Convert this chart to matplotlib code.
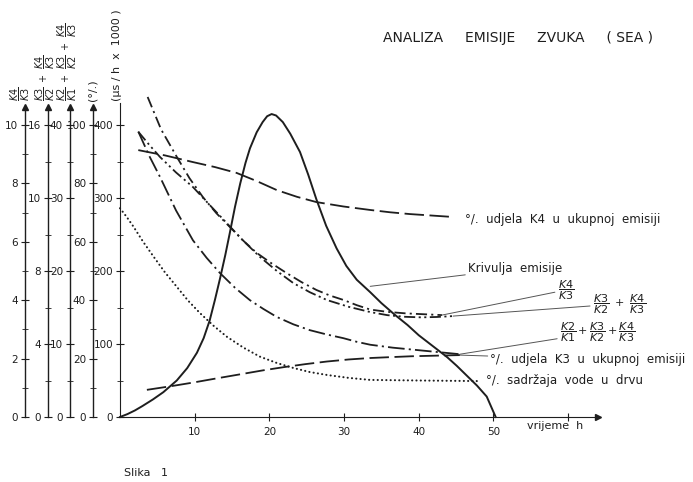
import matplotlib
matplotlib.use("Agg")
import matplotlib.pyplot as plt

# ===== data (x = vrijeme h) =====

# Krivulja emisije, main scale (us/h x 1000)
emis_x = [0, 1, 2, 3, 4.4, 5.8, 7.6, 9.0, 10.3, 11.2, 12.0, 12.7, 13.4, 14.1, 14.7,
          15.4, 16.1, 16.8, 17.4, 18.3, 19.1, 19.7, 20.3, 20.9, 21.8, 22.8, 24.1,
          25.2, 26.3, 27.6, 29.0, 30.3, 31.7, 33.5, 35.0, 36.8, 38.5, 40.0, 41.9,
          43.8, 45.1, 46.4, 47.8, 49.1, 50.3]
emis_y = [0, 4, 9, 15, 24, 34, 50, 67, 88, 108, 132, 160, 190, 222, 252,
          288, 320, 348, 368, 390, 404, 412, 415, 413, 404, 388, 363,
          332, 298, 262, 231, 207, 188, 171, 156, 140, 126, 112, 97,
          82, 70, 57, 43, 28, 0]

# K4/K3 (scale 0-10)
k43_x = [3.7, 5.5, 7.6, 9.3, 11.1, 12.9, 14.7, 16.5, 18.3, 20.3, 22.3, 24.3, 26.3,
         28.1, 29.9, 31.7, 33.5, 35.8, 38.2, 40.6, 43.1]
k43_y = [10.96, 9.85, 8.91, 8.18, 7.53, 6.98, 6.51, 6.04, 5.62, 5.26, 4.93, 4.62,
         4.35, 4.16, 4.01, 3.83, 3.68, 3.60, 3.55, 3.52, 3.49]

# K3/K2 + K4/K3 (scale 0-16)
k32_x = [2.45, 3.9, 5.35, 7.5, 9.77, 12.0, 14.28, 16.5, 18.74, 21.0, 23.2, 25.4,
         27.7, 30.6, 33.5, 35.8, 38.2, 40.3, 42.4, 44.6]
k32_y = [15.63, 14.92, 14.25, 13.40, 12.60, 11.62, 10.63, 9.66, 8.77, 8.00, 7.34,
         6.84, 6.41, 6.04, 5.75, 5.58, 5.49, 5.46, 5.48, 5.53]

# K2/K1 + K3/K2 + K4/K3 (scale 0-40)
k21_x = [2.45, 3.9, 5.35, 7.5, 9.77, 11.6, 13.4, 15.4, 17.4, 19.2, 21.0, 23.2,
         25.4, 27.7, 29.9, 31.7, 33.5, 36.5, 39.5, 42.5, 45.5]
k21_y = [39.1, 35.8, 32.9, 28.3, 24.2, 21.8, 19.7, 17.7, 16.0, 14.8, 13.7, 12.7,
         11.9, 11.3, 10.8, 10.3, 9.9, 9.5, 9.2, 8.9, 8.6]

# % udjela K4 u ukupnoj emisiji
pk4_x = [2.45, 6.0, 9.77, 12.7, 15.6, 18.3, 21.0, 23.7, 26.3, 29.9, 33.5, 36.2, 38.8, 41.7, 44.6]
pk4_y = [91.4, 89.6, 87.3, 85.6, 83.6, 80.8, 77.7, 75.4, 73.6, 72.1, 70.9, 70.1, 69.5, 69.0, 68.5]

# % udjela K3 u ukupnoj emisiji
pk3_x = [3.6, 6.7, 9.8, 13.1, 16.5, 19.2, 22.0, 24.8, 27.7, 30.6, 33.5, 36.2, 39.0, 42.2, 45.5]
pk3_y = [9.3, 10.5, 11.8, 13.3, 14.8, 16.0, 17.1, 18.1, 19.0, 19.7, 20.2, 20.5, 20.8, 21.0, 21.2]

# % sadrzaja vode u drvu
voda_x = [0, 0.9, 1.8, 3.1, 4.5, 6.0, 7.6, 9.1, 10.7, 12.5, 14.3, 16.5, 18.7, 21.0,
          23.2, 25.4, 27.7, 30.6, 33.5, 36.8, 40.0, 44.1, 48.2]
voda_y = [71.5, 68.5, 65.2, 60.0, 54.9, 49.6, 44.6, 39.9, 35.6, 31.3, 27.5, 23.8,
          20.7, 18.5, 16.8, 15.4, 14.4, 13.4, 12.7, 12.6, 12.5, 12.4, 12.3]

# left scales: (label, top value, major ticks, tick labels, minor ticks)
SCALES = [
    (r"$\dfrac{K4}{K3}$", 10, [0, 2, 4, 6, 8, 10], ["0", "2", "4", "6", "8", "10"], [1, 3, 5, 7, 9]),
    (r"$\dfrac{K3}{K2}\ +\ \dfrac{K4}{K3}$", 16, [0, 4, 8, 12, 16], ["0", "4", "8", "10", "16"], [2, 6, 10, 14]),
    (r"$\dfrac{K2}{K1}\ +\ \dfrac{K3}{K2}\ +\ \dfrac{K4}{K3}$", 40, [0, 10, 20, 30, 40], ["0", "10", "20", "30", "40"], [5, 15, 25, 35]),
    ("(°/.)", 100, [0, 20, 40, 60, 80, 100], ["0", "20", "40", "60", "80", "100"], [10, 30, 50, 70, 90]),
]
MAIN_TOP = 400
X_TICKS = [10, 20, 30, 40, 50, 60]
X_LABELS = ["10", "20", "30", "40", "50", ""]

# ===== layout (pixels) =====
W, H = 693, 482
Y0 = 417          # pixel row of zero
SPAN = 292        # pixels from zero to the labelled top value
MAIN_H = 314
LEFT_H = 310
LEFT_X = [25, 48, 70, 93]
LABEL_X = [20, 45, 67, 92]
LABEL_FS = [7, 7, 7, 8]
INK = "#1e1e1e"

plt.rcParams["font.family"] = ["DejaVu Sans"]
plt.rcParams["lines.scale_dashes"] = False
plt.rcParams["mathtext.fontset"] = "dejavusans"

fig = plt.figure(figsize=(W / 100, H / 100), dpi=100)
bottom = (H - Y0) / H


def style_axis(ax):
    for s in ["top", "right"]:
        ax.spines[s].set_visible(False)
    ax.tick_params(which="both", direction="inout", colors=INK, labelsize=7.5, pad=2)
    ax.tick_params(which="major", length=6, width=0.8)
    ax.tick_params(which="minor", length=4, width=0.6)


# left scales
for (label, top, major, labels, minor), xp, lx, fs in zip(SCALES, LEFT_X, LABEL_X, LABEL_FS):
    la = fig.add_axes([xp / W, bottom, 1e-4, LEFT_H / H])
    style_axis(la)
    la.spines["bottom"].set_visible(False)
    la.spines["left"].set_color(INK)
    la.spines["left"].set_linewidth(1.0)
    la.set_xlim(0, 1)
    la.set_ylim(0, top * LEFT_H / SPAN)
    la.set_xticks([])
    la.set_yticks(major)
    la.set_yticklabels(labels)
    la.set_yticks(minor, minor=True)
    la.plot(0, top * LEFT_H / SPAN, marker="^", ms=4, color=INK, clip_on=False)
    fig.text(lx / W, (H - 101) / H, label, rotation=90, ha="center", va="bottom",
             fontsize=fs, color=INK)

fig.text(117 / W, (H - 101) / H, "(μs / h  x  1000 )", rotation=90, ha="center",
         va="bottom", fontsize=8, color=INK)

# main axes
ax = fig.add_axes([120 / W, bottom, 478 / W, MAIN_H / H])
ax.set_facecolor("none")
style_axis(ax)
ax.spines["left"].set_color(INK)
ax.spines["bottom"].set_color(INK)
ax.set_xlim(0, 64)
ax.set_ylim(0, MAIN_TOP * MAIN_H / SPAN)
ax.set_yticks(range(0, MAIN_TOP + 1, 100))
ax.set_yticks(range(50, MAIN_TOP, 100), minor=True)
ax.set_xticks(X_TICKS)
ax.set_xticklabels(X_LABELS)
ax.tick_params(axis="x", pad=4)
ax.plot(64, 0, marker=">", ms=5, color=INK, clip_on=False)


def overlay(top):
    o = fig.add_axes(ax.get_position())
    o.set_xlim(ax.get_xlim())
    o.set_ylim(0, top * MAIN_H / SPAN)
    o.axis("off")
    return o


ax43 = overlay(10)
ax32 = overlay(16)
ax21 = overlay(40)
axp = overlay(100)

ax.plot(emis_x, emis_y, color=INK, lw=1.4, clip_on=False)
ax43.plot(k43_x, k43_y, color=INK, lw=1.3, ls=(0, (8, 3, 1.5, 3)), clip_on=False)
ax32.plot(k32_x, k32_y, color=INK, lw=1.3, ls=(0, (8, 2.5, 1.5, 2.5, 1.5, 2.5)), clip_on=False)
ax21.plot(k21_x, k21_y, color=INK, lw=1.3, ls=(0, (12, 3, 1.5, 3)), clip_on=False)
axp.plot(pk4_x, pk4_y, color=INK, lw=1.3, ls=(0, (14, 4)), clip_on=False)
axp.plot(pk3_x, pk3_y, color=INK, lw=1.3, ls=(0, (14, 4)), clip_on=False)
axp.plot(voda_x, voda_y, color=INK, lw=1.5, ls=(0, (0.1, 3)), dash_capstyle="round",
         clip_on=False)

# labels with leader lines
lead = dict(arrowstyle="-", color="#555555", lw=0.7, shrinkA=0, shrinkB=0)
txt = dict(fontsize=8.5, color=INK, va="center", ha="left")
frac = dict(fontsize=8, color=INK, va="center", ha="left")
tc = ax.transData

ax.text(46.2, 271, "°/.  udjela  K4  u  ukupnoj  emisiji", **txt)
ax.annotate("Krivulja  emisije", xy=(emis_x[33], emis_y[33] + 8), xytext=(46.6, 203),
            textcoords=tc, arrowprops=lead, **txt)
ax.annotate(r"$\dfrac{K4}{K3}$", xy=(k43_x[-1], k43_y[-1]), xycoords=ax43.transData,
            xytext=(58.6, 174), textcoords=tc, arrowprops=lead, **frac)
ax.annotate(r"$\dfrac{K3}{K2}\ +\ \dfrac{K4}{K3}$", xy=(k32_x[-1], k32_y[-1]),
            xycoords=ax32.transData, xytext=(63.3, 155), textcoords=tc,
            arrowprops=lead, **frac)
ax.annotate(r"$\dfrac{K2}{K1}+\dfrac{K3}{K2}+\dfrac{K4}{K3}$", xy=(k21_x[-1], k21_y[-1]),
            xycoords=ax21.transData, xytext=(58.9, 116), textcoords=tc,
            arrowprops=lead, **frac)
ax.annotate("°/.  udjela  K3  u  ukupnoj  emisiji", xy=(pk3_x[-1], pk3_y[-1]),
            xycoords=axp.transData, xytext=(49.6, 79), textcoords=tc,
            arrowprops=lead, **txt)
ax.text(49.0, 50, "°/.  sadržaja  vode  u  drvu", **txt)
ax.text(54.5, -5, "vrijeme  h", fontsize=8, color=INK, ha="left", va="top")

fig.text(383 / W, (H - 38) / H, "ANALIZA     EMISIJE     ZVUKA     ( SEA )", fontsize=10,
         color=INK, ha="left", va="center")
fig.text(124 / W, (H - 473) / H, "Slika   1", fontsize=8, color=INK, ha="left",
         va="center")

fig.savefig("out.png", dpi=100)
